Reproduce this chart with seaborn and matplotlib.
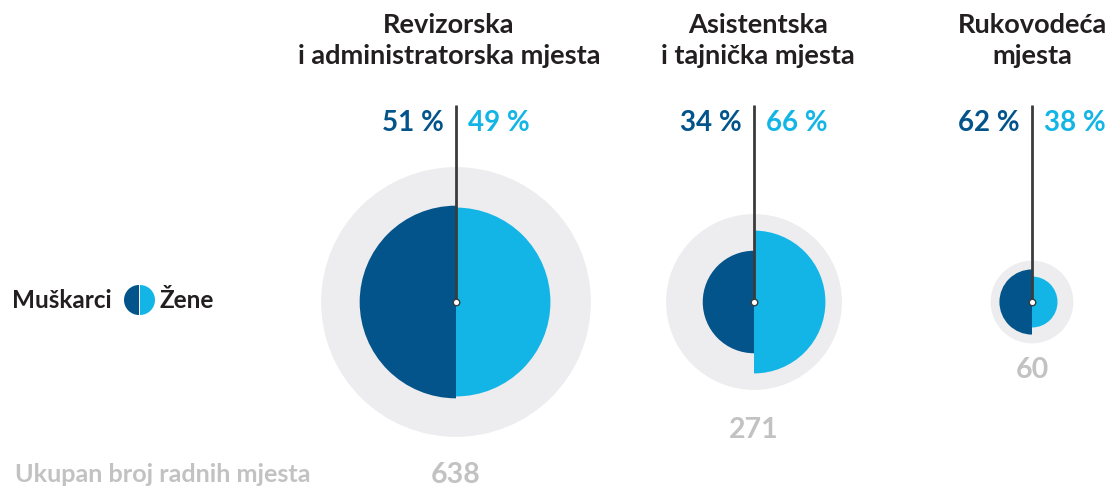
import numpy as np
import matplotlib.pyplot as plt
from matplotlib.patches import Circle, Wedge
import seaborn as sns

# data
groups = ["Revizorska\ni administratorska mjesta",
          "Asistentska\ni tajnička mjesta",
          "Rukovodeća\nmjesta"]
totals = [638, 271, 60]
men_pct = [51, 34, 62]
women_pct = [49, 66, 38]

# colours
DARK = "#02548a"
LIGHT = "#13b5e6"
RING = "#ededef"
LINE = "#3b3b3b"
TXT = "#231f20"
GREY = "#c2c2c2"

sns.set_theme(style="white")
plt.rcParams["font.family"] = ["Lato", "DejaVu Sans"]

fig = plt.figure(figsize=(11.15, 4.91), dpi=100)
ax = fig.add_axes([0, 0, 1, 1])
ax.set_xlim(0, 1115)
ax.set_ylim(491, 0)
ax.set_aspect("equal")
ax.axis("off")

k = 5.34  # pixels per sqrt(count)
cx = [456, 754, 1032]
title_dx = [-7, 4, 0]
cy = 302
line_top = 105
total_y = [475, 430, 370]

for i in range(len(groups)):
    t = totals[i]
    rg = k * np.sqrt(t)
    rm = k * np.sqrt(t * men_pct[i] / 100)
    rw = k * np.sqrt(t * women_pct[i] / 100)
    ax.add_patch(Circle((cx[i], cy), rg, color=RING, lw=0, zorder=1))
    ax.add_patch(Wedge((cx[i], cy), rm, 90, 270, color=DARK, lw=0, zorder=2))
    ax.add_patch(Wedge((cx[i], cy), rw, -90, 90, color=LIGHT, lw=0, zorder=2))
    ax.plot([cx[i], cx[i]], [cy, line_top], color=LINE, lw=2, zorder=3,
            solid_capstyle="butt")
    ax.text(cx[i] + title_dx[i], 40, groups[i], ha="center", va="center",
            fontsize=19.5, fontweight="bold", color=TXT, linespacing=1.35)
    ax.text(cx[i] - 12, 123, f"{men_pct[i]} %", ha="right", va="center",
            fontsize=20, fontweight="bold", color=DARK)
    ax.text(cx[i] + 12, 123, f"{women_pct[i]} %", ha="left", va="center",
            fontsize=20, fontweight="bold", color=LIGHT)
    ax.text(cx[i], total_y[i], str(t), ha="center", va="center",
            fontsize=20.5, fontweight="bold", color=GREY)

sns.scatterplot(x=cx, y=[cy] * 3, ax=ax, s=22, color="white",
                edgecolor=LINE, linewidth=1, zorder=4, legend=False)

# legend
ax.text(112, 300, "Muškarci", ha="right", va="center", fontsize=17.5,
        fontweight="bold", color=TXT)
ax.add_patch(Wedge((139, 300), 15, 90, 270, color=DARK, lw=0))
ax.add_patch(Wedge((140, 300), 15, -90, 90, color=LIGHT, lw=0))
ax.text(159, 300, "Žene", ha="left", va="center", fontsize=17.5,
        fontweight="bold", color=TXT)

ax.text(15, 475, "Ukupan broj radnih mjesta", ha="left", va="center",
        fontsize=18.2, fontweight="bold", color=GREY)

fig.savefig("out.png", dpi=100)
